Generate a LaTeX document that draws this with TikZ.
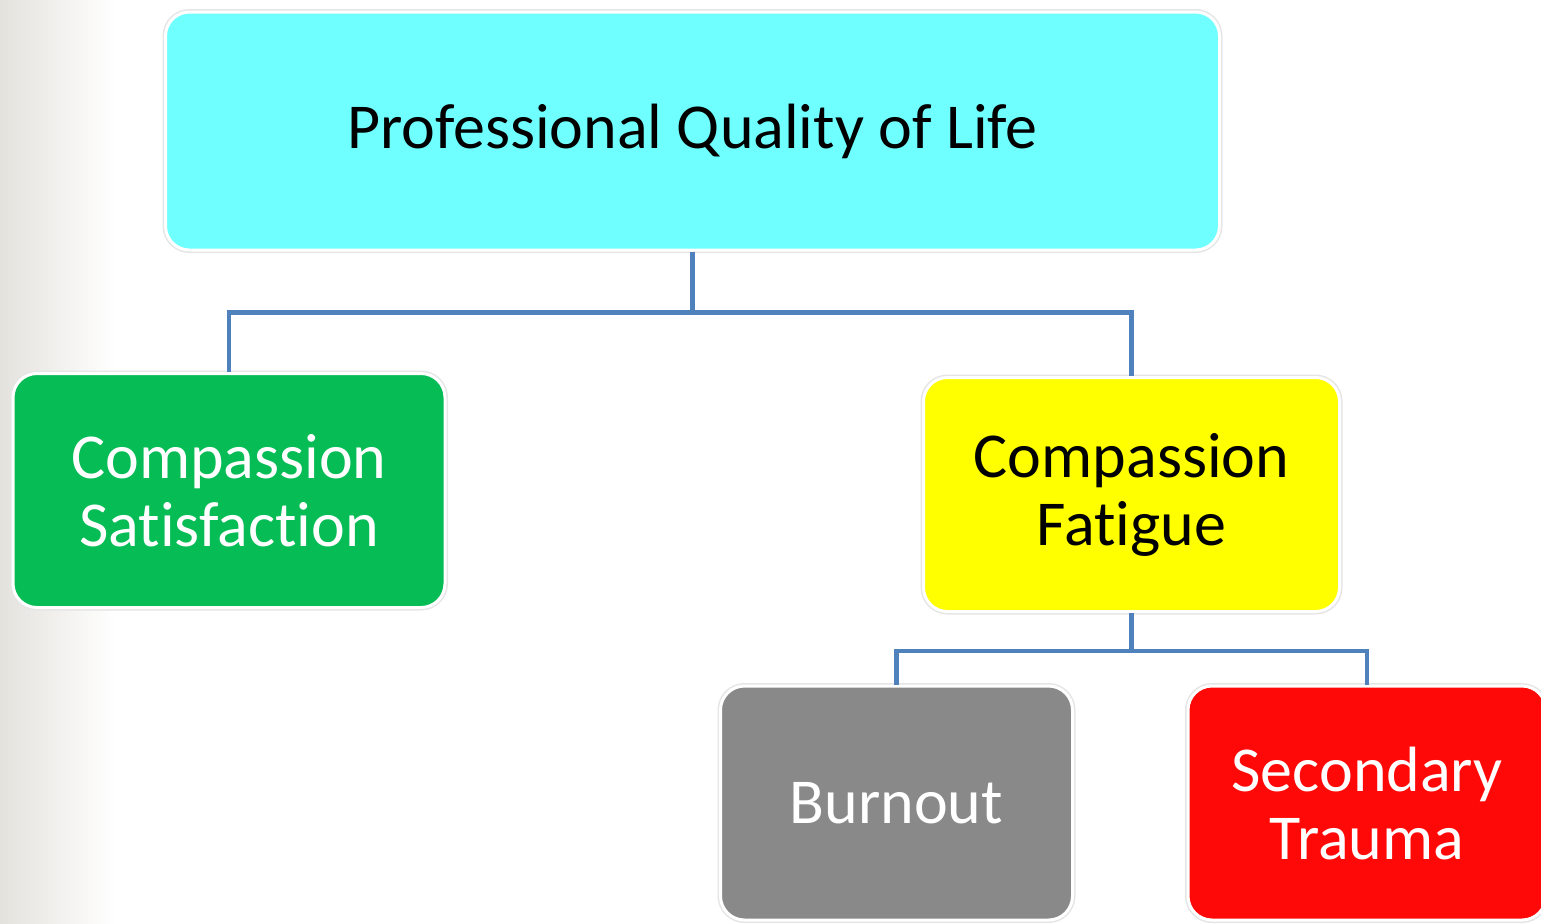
\documentclass[tikz,border=0pt]{standalone}
\usepackage{fontspec}
\setmainfont[Ligatures=NoCommon]{Carlito}
\definecolor{bgGrey}{RGB}{228,226,221}
\definecolor{qolCyan}{RGB}{112,255,255}
\definecolor{csGreen}{RGB}{5,188,85}
\definecolor{cfYellow}{RGB}{255,255,0}
\definecolor{boGrey}{RGB}{137,137,137}
\definecolor{stRed}{RGB}{255,8,8}
\definecolor{linkBlue}{RGB}{79,129,189}
\begin{document}
\begin{tikzpicture}[x=0.5pt,y=-0.5pt,
	box/.style={rounded corners=12pt, inner sep=0pt, align=center,
		font=\fontsize{32}{34}\selectfont, draw=white, line width=1.5pt,
		preaction={draw=black!10, line width=3pt}},
	link/.style={draw=linkBlue, line width=2.4pt}]
	\useasboundingbox (0,0) rectangle (1541,923);
	\fill[left color=bgGrey, right color=white] (0,0) rectangle (115,923);
	\node[box, fill=qolCyan, minimum width=527pt, minimum height=119pt] (qol) at (692.5,131) {Professional Quality of Life};
	\node[box, fill=csGreen, text=white, minimum width=216pt, minimum height=117pt] (sat) at (229,490.5) {Compassion\\Satisfaction};
	\node[box, fill=cfYellow, minimum width=208pt, minimum height=117pt] (fat) at (1131.5,494.5) {Compassion\\Fatigue};
	\node[box, fill=boGrey, text=white, minimum width=176pt, minimum height=117pt] (burn) at (896.5,803) {Burnout};
	\node[box, fill=stRed, text=white, minimum width=179pt, minimum height=117pt] (sec) at (1367,803) {Secondary\\Trauma};
	\draw[link] (qol.south) -- ++(0,61) -| (sat.north);
	\draw[link] (qol.south) -- ++(0,61) -| (fat.north);
	\draw[link] (fat.south) -- ++(0,38) -| (burn.north);
	\draw[link] (fat.south) -- ++(0,38) -| (sec.north);
\end{tikzpicture}
\end{document}
